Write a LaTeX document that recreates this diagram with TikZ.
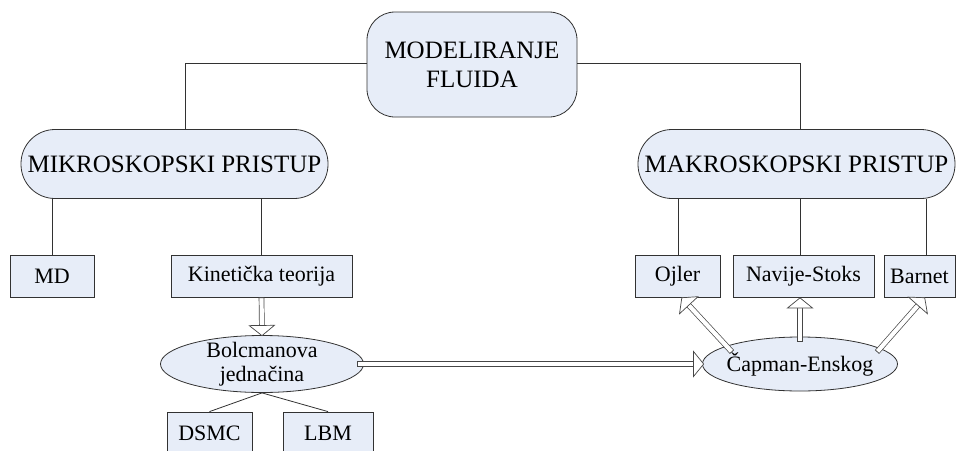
\documentclass[tikz,border=0pt]{standalone}
\usepackage{fontspec}
\setmainfont{Liberation Serif}
\usetikzlibrary{arrows.meta,shapes.geometric,calc}
\definecolor{boxfill}{RGB}{231,237,248}
\definecolor{edge}{RGB}{50,50,50}
\begin{document}
\begin{tikzpicture}[x=1pt,y=-1pt,
  base/.style={draw=edge, line width=0.8pt, fill=boxfill, text=black, inner sep=0pt, align=center},
  bigtxt/.style={font=\fontsize{25}{29}\selectfont},
  smalltxt/.style={font=\fontsize{22}{24}\selectfont},
  roundbox/.style={base, bigtxt, rectangle},
  leafbox/.style={base, smalltxt, rectangle, minimum height=42pt},
  ellbox/.style={base, smalltxt, ellipse, inner sep=-14pt},
  link/.style={draw=edge, line width=0.8pt},
  hollow/.style={draw=gray!55!black, line width=0.7pt, double=white, double distance=4.2pt,
    {Bar[width=5.6pt,line width=0.7pt]}-{Triangle[open, width=27pt, length=11pt, line width=0.7pt, fill=white]}}
]
\useasboundingbox (0,0) rectangle (958,450);
\clip (0,0) rectangle (958,450);

\node[roundbox, rounded corners=28pt, minimum width=210pt, minimum height=105pt] (top) at (472,64.5) {MODELIRANJE\\FLUIDA};
\node[roundbox, rounded corners=34pt, minimum width=307pt, minimum height=69pt] (mikro) at (174.5,164) {MIKROSKOPSKI PRISTUP};
\node[roundbox, rounded corners=34pt, minimum width=317pt, minimum height=69pt] (makro) at (796.5,164) {MAKROSKOPSKI PRISTUP};

\node[leafbox, minimum width=84pt] (md) at (52,276) {MD};
\node[leafbox, minimum width=181pt] (kin) at (261.5,276) {Kinetička teorija};
\node[leafbox, minimum width=85pt] (ojler) at (677.5,276) {Ojler};
\node[leafbox, minimum width=141pt] (navije) at (803.5,276) {Navije-Stoks};
\node[leafbox, minimum width=71pt] (barnet) at (919.5,276) {Barnet};

\node[ellbox, minimum width=203pt, minimum height=57pt] (bolc) at (262,364) {Bolcmanova\\jednačina};
\node[ellbox, minimum width=195pt, minimum height=54pt] (cap) at (800,364) {Čapman-Enskog};

\node[leafbox, minimum width=85pt] (dsmc) at (209.5,433) {DSMC};
\node[leafbox, minimum width=90pt] (lbm) at (328,433) {LBM};

% tree connectors
\draw[link] (top.west |- 0,63) -| ([xshift=10.5pt]mikro.north);
\draw[link] (top.east |- 0,63) -| ([xshift=3.5pt]makro.north);
\draw[link] (md.north) -- (md.north |- mikro.south);
\draw[link] (kin.north) -- (kin.north |- mikro.south);
\draw[link] ([xshift=0.5pt]ojler.north) -- ([xshift=0.5pt]ojler.north |- makro.south);
\draw[link] ([xshift=-3.5pt]navije.north) -- ([xshift=-3.5pt]navije.north |- makro.south);
\draw[link] ([xshift=6.5pt]barnet.north) -- ([xshift=6.5pt]barnet.north |- makro.south);
\draw[link] (bolc.south) -- (dsmc.north);
\draw[link] (bolc.south) -- (lbm.north);

% hollow arrows
\draw[hollow] (kin.south) -- ([yshift=-1pt]bolc.north);
\draw[hollow] ([xshift=-7pt]bolc.east) -- ([xshift=2pt]cap.west);
\draw[hollow] ($(cap.center)+(-68,-12)$) -- ([xshift=4pt]ojler.south);
\draw[hollow] ([yshift=-5pt]cap.north) -- ([xshift=-3.5pt]navije.south);
\draw[hollow] ($(cap.center)+(77,-12)$) -- ([xshift=5.5pt]barnet.south);
\end{tikzpicture}
\end{document}
